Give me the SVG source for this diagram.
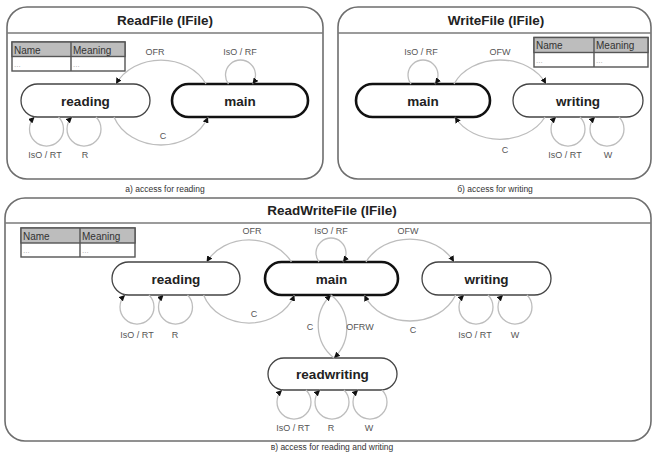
<svg xmlns="http://www.w3.org/2000/svg" width="653" height="454" viewBox="0 0 653 454">
<style>
.panel{fill:#fff;stroke:#6e6e6e;stroke-width:1.6}
.hdr{stroke:#7a7a7a;stroke-width:1.6}
.title{font-family:"Liberation Sans",Arial,sans-serif;font-weight:bold;font-size:13.5px;fill:#222;text-anchor:middle}
.st{fill:#fff;stroke:#444;stroke-width:1.3}
.main{fill:#fff;stroke:#111;stroke-width:2.6}
.nl{font-family:"Liberation Sans",Arial,sans-serif;font-weight:bold;font-size:13.5px;fill:#222;text-anchor:middle}
.tr{fill:none;stroke:#bdbdbd;stroke-width:1.3;marker-end:url(#ah)}
.lbl{font-family:"Liberation Sans",Arial,sans-serif;font-size:9px;fill:#555;text-anchor:middle}
.cap{font-family:"Liberation Sans",Arial,sans-serif;font-size:8.5px;fill:#333;text-anchor:middle}
.th{fill:#bdbdbd;stroke:#555;stroke-width:1.4}
.tb{fill:#fff;stroke:#555;stroke-width:1.4}
.tht{font-family:"Liberation Sans",Arial,sans-serif;font-size:10px;fill:#333}
.tdt{font-family:"Liberation Sans",Arial,sans-serif;font-size:8px;fill:#aaa}
</style>
<defs>
<marker id="ah" viewBox="0 0 7 7" refX="7" refY="3.5" markerWidth="6" markerHeight="6" orient="auto" markerUnits="userSpaceOnUse">
<path d="M0,0 L7,3.5 L0,7 z" fill="#111"/>
</marker>
</defs>

<!-- Panel a -->
<g id="panelA">
<rect class="panel" x="7" y="7" width="316" height="172" rx="20"/>
<line class="hdr" x1="7" y1="33" x2="323" y2="33"/>
<text class="title" x="165" y="25">ReadFile (IFile)</text>
<text class="cap" x="165" y="192">a) access for reading</text>
</g>
<g id="tableA">
<rect class="tb" x="12" y="42" width="113" height="29"/>
<rect class="th" x="12" y="42" width="113" height="14.5"/>
<line x1="71" y1="42" x2="71" y2="71" stroke="#555" stroke-width="1.4"/>
<text class="tht" x="14" y="53.5">Name</text>
<text class="tht" x="73" y="53.5">Meaning</text>
<text class="tdt" x="14" y="67">...</text>
<text class="tdt" x="73" y="67">...</text>
</g>
<g id="a_reading">
<rect class="st" x="21" y="84" width="129" height="33" rx="16.5"/>
<text class="nl" x="85.5" y="105.5">reading</text>
</g>
<g id="a_main">
<rect class="main" x="172" y="84" width="136" height="33" rx="16.5"/>
<text class="nl" x="240" y="105.5">main</text>
</g>

<!-- Panel b -->
<g id="panelB">
<rect class="panel" x="338" y="7" width="313" height="172" rx="20"/>
<line class="hdr" x1="338" y1="33" x2="651" y2="33"/>
<text class="title" x="496" y="25">WriteFile (IFile)</text>
<text class="cap" x="495" y="192">б) access for writing</text>
</g>
<g id="tableB">
<rect class="tb" x="534" y="37.5" width="114" height="29.5"/>
<rect class="th" x="534" y="37.5" width="114" height="15"/>
<line x1="594" y1="37.5" x2="594" y2="67" stroke="#555" stroke-width="1.4"/>
<text class="tht" x="536" y="49">Name</text>
<text class="tht" x="596" y="49">Meaning</text>
<text class="tdt" x="536" y="63">...</text>
<text class="tdt" x="596" y="63">...</text>
</g>
<g id="b_main">
<rect class="main" x="356" y="84" width="134" height="33" rx="16.5"/>
<text class="nl" x="423" y="105.5">main</text>
</g>
<g id="b_writing">
<rect class="st" x="513" y="84" width="130" height="33" rx="16.5"/>
<text class="nl" x="578" y="105.5">writing</text>
</g>

<!-- Panel c -->
<g id="panelC">
<rect class="panel" x="5" y="198" width="646" height="243" rx="20"/>
<line class="hdr" x1="5" y1="223" x2="651" y2="223"/>
<text class="title" x="332" y="215">ReadWriteFile (IFile)</text>
<text class="cap" x="332" y="450">в) access for reading and writing</text>
</g>
<g id="tableC">
<rect class="tb" x="21" y="228" width="114" height="29"/>
<rect class="th" x="21" y="228" width="114" height="15"/>
<line x1="80" y1="228" x2="80" y2="257" stroke="#555" stroke-width="1.4"/>
<text class="tht" x="23" y="239.5">Name</text>
<text class="tht" x="82" y="239.5">Meaning</text>
<text class="tdt" x="23" y="253">...</text>
<text class="tdt" x="82" y="253">...</text>
</g>
<g id="c_reading">
<rect class="st" x="112" y="262" width="128" height="33" rx="16.5"/>
<text class="nl" x="176" y="283.5">reading</text>
</g>
<g id="c_main">
<rect class="main" x="265" y="262" width="133" height="33" rx="16.5"/>
<text class="nl" x="331.5" y="283.5">main</text>
</g>
<g id="c_writing">
<rect class="st" x="422" y="262" width="129" height="33" rx="16.5"/>
<text class="nl" x="486.5" y="283.5">writing</text>
</g>
<g id="c_readwriting">
<rect class="st" x="268" y="358" width="129" height="32" rx="16"/>
<text class="nl" x="332.5" y="379">readwriting</text>
</g>

<!-- Connectors -->
<g id="connectors">
<!-- panel a -->
<path class="tr" d="M206 84 A50 42.5 0 0 0 116 84"/>
<path class="tr" d="M114 117 A50 42.5 0 0 0 208 117"/>
<path class="tr" d="M228.5 84 A15 15 0 1 1 252.5 84"/>
<path class="tr" d="M58.5 117 A17 17 0 1 1 34.5 117"/>
<path class="tr" d="M96 117 A17 17 0 1 1 72 117"/>
<!-- panel b -->
<path class="tr" d="M454 84 A50 39.5 0 0 1 546 84"/>
<path class="tr" d="M545 117 A50 39.5 0 0 1 455 117"/>
<path class="tr" d="M411 84 A15 15 0 1 1 435 84"/>
<path class="tr" d="M580 117 A17 17 0 1 1 556 117"/>
<path class="tr" d="M619 117 A17 17 0 1 1 595 117"/>
<!-- panel c -->
<path class="tr" d="M291.4 262 A48 41.5 0 0 0 206.6 262"/>
<path class="tr" d="M203.6 295 A48 41.5 0 0 0 294.4 295"/>
<path class="tr" d="M366 262 A49 41 0 0 1 454 262"/>
<path class="tr" d="M455.6 295 A49 41 0 0 1 364.4 295"/>
<path class="tr" d="M319 262 A15 15 0 1 1 343 262"/>
<path class="tr" d="M334 358 A42 42 0 0 1 331 295"/>
<path class="tr" d="M331 295 A42 42 0 0 1 334 358"/>
<path class="tr" d="M149 295 A17 17 0 1 1 125 295"/>
<path class="tr" d="M187.5 295 A17 17 0 1 1 163.5 295"/>
<path class="tr" d="M488 295 A17 17 0 1 1 464 295"/>
<path class="tr" d="M527 295 A17 17 0 1 1 503 295"/>
<path class="tr" d="M306 390 A17 17 0 1 1 282 390"/>
<path class="tr" d="M344 390 A17 17 0 1 1 320 390"/>
<path class="tr" d="M382 390 A17 17 0 1 1 358 390"/>
</g>

<g id="labels">
<text class="lbl" x="155" y="55">OFR</text>
<text class="lbl" x="240" y="55">IsO / RF</text>
<text class="lbl" x="163" y="139">C</text>
<text class="lbl" x="45" y="158">IsO / RT</text>
<text class="lbl" x="85" y="158">R</text>

<text class="lbl" x="421" y="55">IsO / RF</text>
<text class="lbl" x="500" y="55">OFW</text>
<text class="lbl" x="505" y="153">C</text>
<text class="lbl" x="565" y="158">IsO / RT</text>
<text class="lbl" x="608" y="158">W</text>

<text class="lbl" x="252" y="234">OFR</text>
<text class="lbl" x="331" y="234">IsO / RF</text>
<text class="lbl" x="408" y="234">OFW</text>
<text class="lbl" x="254" y="317">C</text>
<text class="lbl" x="413" y="333">C</text>
<text class="lbl" x="310" y="330">C</text>
<text class="lbl" x="360" y="330">OFRW</text>
<text class="lbl" x="137" y="338">IsO / RT</text>
<text class="lbl" x="175" y="338">R</text>
<text class="lbl" x="475" y="338">IsO / RT</text>
<text class="lbl" x="515" y="338">W</text>
<text class="lbl" x="293" y="431">IsO / RT</text>
<text class="lbl" x="331" y="431">R</text>
<text class="lbl" x="369" y="431">W</text>
</g>
</svg>
